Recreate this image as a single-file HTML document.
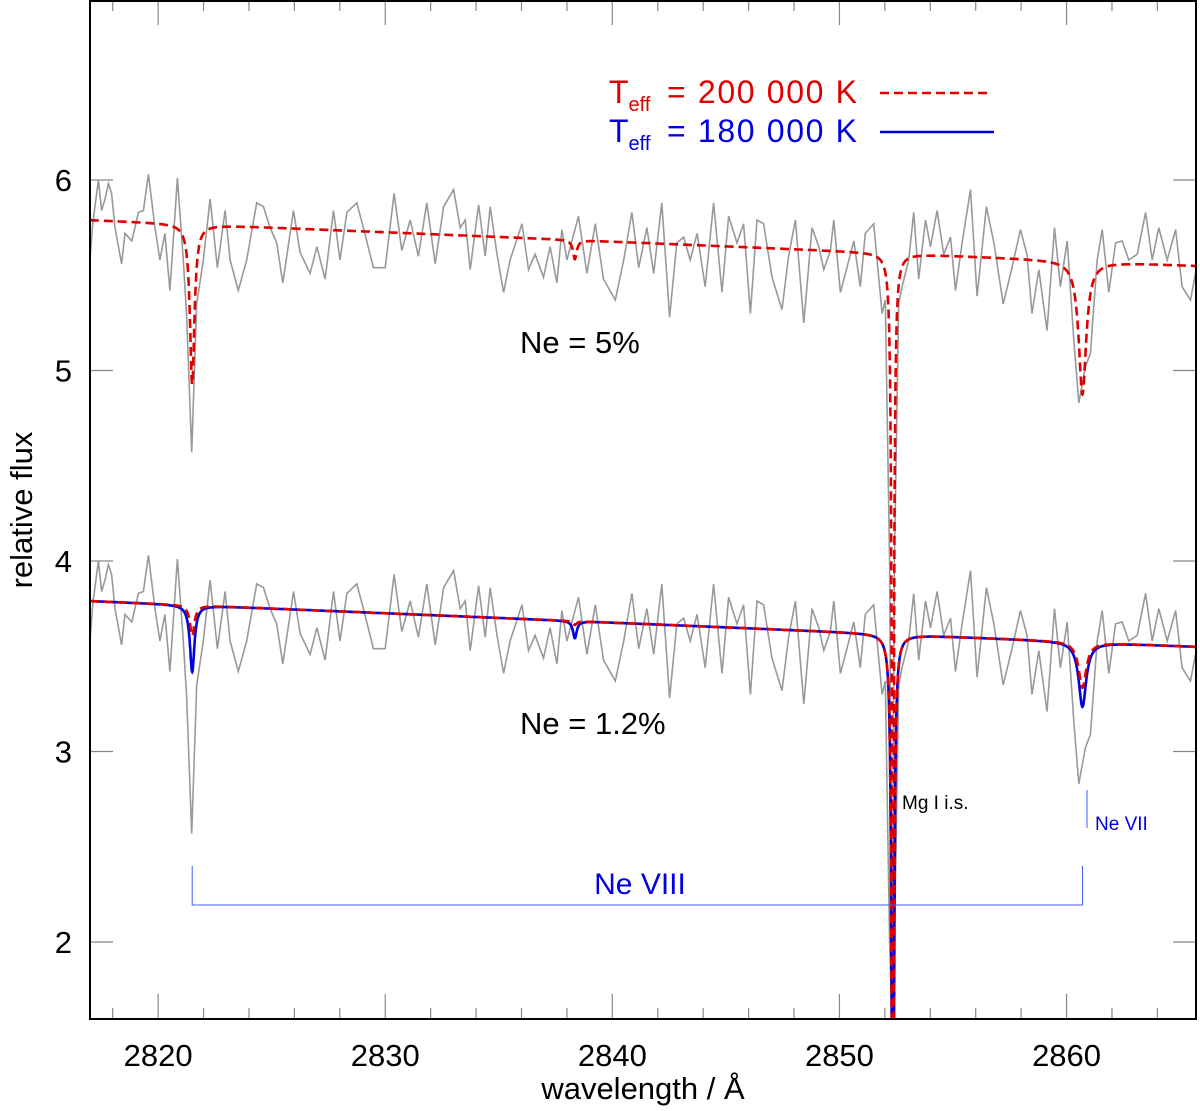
<!DOCTYPE html>
<html><head><meta charset="utf-8"><style>
html,body{margin:0;padding:0;background:#fff;overflow:hidden;width:1200px;height:1111px;}
svg{display:block;position:absolute;left:0;top:0;font-family:"Liberation Sans",sans-serif;}
</style></head><body>
<svg id="chart" width="1200" height="1110" viewBox="0 0 1200 1110">
<defs><clipPath id="plotclip"><rect x="90" y="0" width="1106" height="1019"/></clipPath></defs>
<g id="plot" clip-path="url(#plotclip)"></g>
<g id="axes"></g>
<g>
<text x="520" y="353" font-size="31" fill="#000">Ne = 5%</text>
<text x="520" y="734" font-size="31" fill="#000">Ne = 1.2%</text>
<text x="902" y="809" font-size="19" fill="#000">Mg I i.s.</text>
<text x="1095" y="830" font-size="19" fill="#0000e0">Ne VII</text>
<text x="640" y="894" font-size="30" fill="#0000e0" text-anchor="middle">Ne VIII</text>
<g>
<text x="609" y="103" font-size="32" fill="#e00000">T<tspan font-size="20" dy="8">eff</tspan><tspan dy="-8" x="667" textLength="190">= 200 000 K</tspan></text>
<line x1="880" y1="93" x2="992" y2="93" stroke="#e00000" stroke-width="2.6" stroke-dasharray="9,5"/>
<text x="609" y="142" font-size="32" fill="#0000e0">T<tspan font-size="20" dy="8">eff</tspan><tspan dy="-8" x="667" textLength="190">= 180 000 K</tspan></text>
<line x1="880" y1="132" x2="994" y2="132" stroke="#0000e0" stroke-width="2.6"/>
</g>
<text x="643" y="1099" font-size="31" fill="#000" text-anchor="middle">wavelength / Å</text>
<text x="0" y="0" font-size="31" fill="#000" text-anchor="middle" transform="translate(32,510) rotate(-90)">relative flux</text>
</g>
</svg>
<script>
const obsWave = [2817.00,2817.12,2817.37,2817.51,2817.66,2817.81,2817.95,2818.10,2818.39,2818.54,2818.69,2818.84,2819.13,2819.35,2819.57,2819.86,2820.08,2820.30,2820.52,2820.85,2821.11,2821.26,2821.48,2821.70,2821.99,2822.29,2822.61,2822.95,2823.17,2823.53,2823.90,2824.34,2824.64,2824.93,2825.22,2825.49,2825.96,2826.25,2826.69,2826.99,2827.35,2827.72,2828.01,2828.31,2828.75,2829.04,2829.48,2830.00,2830.39,2830.73,2831.10,2831.46,2831.83,2832.20,2832.57,2833.01,2833.30,2833.52,2833.74,2834.11,2834.40,2834.62,2834.92,2835.21,2835.50,2836.02,2836.31,2836.60,2836.97,2837.26,2837.56,2837.78,2838.00,2838.51,2838.88,2839.25,2839.61,2840.13,2840.50,2840.86,2841.16,2841.52,2841.82,2842.18,2842.52,2842.84,2843.14,2843.43,2843.73,2844.09,2844.46,2844.83,2845.12,2845.49,2845.78,2846.08,2846.37,2846.66,2847.03,2847.47,2847.76,2848.06,2848.43,2848.79,2849.09,2849.31,2849.60,2849.75,2850.04,2850.33,2850.63,2850.92,2851.14,2851.51,2851.88,2852.02,2852.21,2852.32,2852.42,2852.61,2852.76,2853.05,2853.27,2853.49,2853.79,2854.01,2854.30,2854.59,2854.89,2855.11,2855.40,2855.77,2856.06,2856.47,2856.80,2857.21,2857.60,2857.97,2858.26,2858.48,2858.78,2859.14,2859.47,2859.73,2860.03,2860.32,2860.54,2860.83,2861.05,2861.35,2861.57,2861.86,2862.16,2862.45,2862.74,2863.11,2863.48,2863.77,2864.06,2864.43,2864.80,2865.09,2865.46,2865.68];
const obsFlux = [5.58,5.77,6.00,5.84,5.90,5.98,5.93,5.75,5.56,5.72,5.70,5.68,5.83,5.84,6.03,5.75,5.58,5.72,5.42,6.01,5.58,5.28,4.57,5.35,5.58,5.90,5.54,5.84,5.58,5.42,5.58,5.88,5.86,5.75,5.67,5.46,5.84,5.62,5.51,5.65,5.48,5.84,5.58,5.83,5.88,5.75,5.54,5.54,5.93,5.63,5.79,5.60,5.88,5.56,5.86,5.95,5.75,5.79,5.53,5.87,5.60,5.86,5.61,5.41,5.58,5.77,5.53,5.61,5.49,5.65,5.46,5.74,5.58,5.81,5.51,5.77,5.48,5.37,5.58,5.83,5.54,5.75,5.51,5.88,5.28,5.67,5.70,5.58,5.72,5.44,5.88,5.41,5.81,5.67,5.77,5.30,5.79,5.77,5.49,5.32,5.60,5.79,5.25,5.75,5.65,5.53,5.63,5.79,5.41,5.54,5.68,5.44,5.72,5.77,5.30,5.37,4.00,1.70,4.00,5.35,5.44,5.58,5.83,5.48,5.79,5.65,5.84,5.61,5.70,5.42,5.67,5.95,5.39,5.86,5.67,5.35,5.54,5.74,5.61,5.30,5.53,5.21,5.75,5.44,5.68,5.16,4.83,5.02,5.09,5.58,5.74,5.41,5.67,5.68,5.58,5.61,5.83,5.58,5.75,5.58,5.74,5.44,5.37,5.51];
const obsOffset = [0, -2];
const lineCenters = [2821.5, 2838.35, 2852.35, 2860.7];
const lineWidths = [0.12, 0.1, 0.05, 0.2];
const red200Upper = [0.84, 0.10, 4.6, 0.70];
const red200Lower = [0.16, 0.02, 4.6, 0.24];
const blue180Lower = [0.35, 0.09, 4.6, 0.34];
const contUpper = [5.79, 5.55];
const contLower = [3.79, 3.55];
const xTicks = [2820, 2830, 2840, 2850, 2860];
const yTicks = [2, 3, 4, 5, 6];

const X0=90, X1=1196, Y0=0, Y1=1019;
const xMin=2817, xMax=2865.7, yMin=1.596, yMax=6.945;
const xs = w => X0 + (w - xMin) / (xMax - xMin) * (X1 - X0);
const ys = f => Y1 - (f - yMin) / (yMax - yMin) * (Y1 - Y0);
const yc = f => Math.min(ys(f), Y1 + 3);
const NS = 'http://www.w3.org/2000/svg';
const plot = document.getElementById('plot');
const axes = document.getElementById('axes');
function mk(tag, attrs, parent){const e=document.createElementNS(NS,tag);for(const k in attrs)e.setAttribute(k,attrs[k]);parent.appendChild(e);return e;}

obsOffset.forEach((off,i)=>{
  const d = obsWave.map((w,j)=>(j?'L':'M')+xs(w).toFixed(1)+','+yc(obsFlux[j]+off).toFixed(1)).join('');
  const p = mk('path',{d:d,fill:'none',stroke:'#999','stroke-width':1.6},plot);
  
  
});

function model(cont, depths){
  const pts=[];
  for(let w=xMin; w<=xMax; w+=0.01){
    let f = cont[0] + (cont[1]-cont[0])*(w-xMin)/(xMax-xMin);
    for(let k=0;k<lineCenters.length;k++){const g=lineWidths[k], dx=w-lineCenters[k]; f -= depths[k]*g*g/(g*g+dx*dx);}
    pts.push((pts.length?'L':'M')+xs(w).toFixed(1)+','+yc(f).toFixed(1));
  }
  return pts.join('');
}
const m1 = mk('path',{d:model(contUpper,red200Upper),fill:'none',stroke:'#e00000','stroke-width':2.6,'stroke-dasharray':'9,5'},plot);


const m2 = mk('path',{d:model(contLower,blue180Lower),fill:'none',stroke:'#0000e0','stroke-width':2.6},plot);


const m3 = mk('path',{d:model(contLower,red200Lower),fill:'none',stroke:'#e00000','stroke-width':2.6,'stroke-dasharray':'9,5'},plot);



for(let w=2818; w<=2865; w+=2){
  const major = w%10===0;
  const len = major?25:11;
  mk('line',{x1:xs(w),x2:xs(w),y1:Y1,y2:Y1-len,stroke:'#888','stroke-width':1.2},axes);
  mk('line',{x1:xs(w),x2:xs(w),y1:Y0,y2:Y0+len,stroke:'#888','stroke-width':1.2},axes);
}
xTicks.forEach(w=>{
  const t = mk('text',{x:xs(w),y:1066,'text-anchor':'middle','font-size':31,fill:'#000'},axes);
  t.textContent = w;
  
  
});
yTicks.forEach(f=>{
  mk('line',{x1:X0,x2:X0+23,y1:ys(f),y2:ys(f),stroke:'#888','stroke-width':1.2},axes);
  mk('line',{x1:X1,x2:X1-23,y1:ys(f),y2:ys(f),stroke:'#888','stroke-width':1.2},axes);
  const t = mk('text',{x:72,y:ys(f)+11,'text-anchor':'end','font-size':31,fill:'#000'},axes);
  t.textContent = f;
  
  
});
mk('rect',{x:X0,y:Y0+1,width:X1-X0,height:Y1-Y0-1,fill:'none',stroke:'#000','stroke-width':2},axes);

const bk = mk('path',{d:`M${xs(2821.5)},866V905H${xs(2860.7)}V866`,fill:'none',stroke:'#4060ff','stroke-width':1},axes);


const nv = mk('path',{d:`M${xs(2860.9)},790V828`,fill:'none',stroke:'#4060ff','stroke-width':1},axes);


</script>
</body></html>
